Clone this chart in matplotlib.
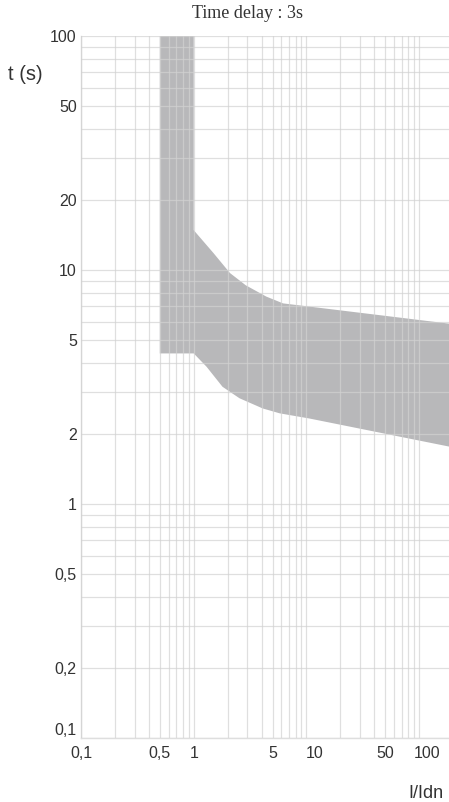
import matplotlib
matplotlib.use("Agg")
import matplotlib.pyplot as plt
import matplotlib.transforms as mtransforms
from matplotlib.ticker import FixedLocator, NullFormatter

plt.rcParams["font.family"] = ["Liberation Sans", "DejaVu Sans"]

# ── Data: tripping band of the residual current relay (time delay 3 s) ──
upper_x = [0.5, 1.0, 1.0, 1.5, 2.1, 2.9, 4.4, 6.2, 184]
upper_t = [100, 100, 14.8, 11.8, 9.7, 8.6, 7.7, 7.2, 5.9]
lower_x = [184, 10.6, 5.8, 4.1, 2.55, 1.8, 1.3, 1.0, 0.5]
lower_t = [1.76, 2.32, 2.44, 2.56, 2.83, 3.17, 3.86, 4.4, 4.4]

x_ticks = [0.1, 0.5, 1, 5, 10, 50, 100]
x_labels = ["0,1", "0,5", "1", "5", "10", "50", "100"]
y_ticks = [0.1, 0.2, 0.5, 1, 2, 5, 10, 20, 50, 100]
y_labels = ["0,1", "0,2", "0,5", "1", "2", "5", "10", "20", "50", "100"]

W, H = 449, 802
fig = plt.figure(figsize=(W / 100, H / 100), dpi=100)
ax = fig.add_axes([81 / W, 1 - 738 / H, 368 / W, 702 / H])

ax.set_xscale("log")
ax.set_yscale("log")
ax.set_xlim(0.1, 184)
ax.set_ylim(0.1, 100)

# Band
ax.fill(upper_x + lower_x, upper_t + lower_t, facecolor="#b8b8ba",
        edgecolor="none", zorder=1)

# Grid: every 1..9 multiple in each decade
minor = [m * 10.0 ** e for e in range(-1, 3) for m in range(1, 10)]
ax.xaxis.set_major_locator(FixedLocator(x_ticks))
ax.xaxis.set_minor_locator(FixedLocator(minor))
ax.yaxis.set_major_locator(FixedLocator(y_ticks))
ax.yaxis.set_minor_locator(FixedLocator(minor))
ax.xaxis.set_minor_formatter(NullFormatter())
ax.yaxis.set_minor_formatter(NullFormatter())
ax.set_xticklabels(x_labels)
ax.set_yticklabels(y_labels)
ax.grid(True, which="both", color="#d2d2d2", linewidth=0.9, alpha=0.7, zorder=2)
ax.set_axisbelow(False)

for side in ("top", "right"):
    ax.spines[side].set_visible(False)
for side in ("left", "bottom"):
    ax.spines[side].set_color("#dedede")
    ax.spines[side].set_linewidth(1.0)

ax.tick_params(which="both", length=0, labelsize=11.5, colors="#333333")
ax.tick_params(axis="x", pad=6)
ax.tick_params(axis="y", pad=3)

# small nudges seen on the original labels
ylabs = ax.get_yticklabels()
ylabs[0].set_va("bottom")
shift = mtransforms.ScaledTranslation(8 / 100, 0, fig.dpi_scale_trans)
for lab in ax.get_xticklabels():
    if lab.get_text() in ("10", "100"):
        lab.set_transform(lab.get_transform() + shift)

fig.text(248 / W, 1 - 13 / H, "Time delay : 3s", ha="center", va="center",
         fontsize=13, family="Liberation Serif", color="#333333")
fig.text(8 / W, 1 - 75 / H, "t (s)", ha="left", va="center",
         fontsize=14.5, color="#333333")
fig.text(443 / W, 1 - 793 / H, "I/Idn", ha="right", va="center",
         fontsize=13, color="#333333")

fig.savefig("out.png", dpi=100, facecolor="white")
